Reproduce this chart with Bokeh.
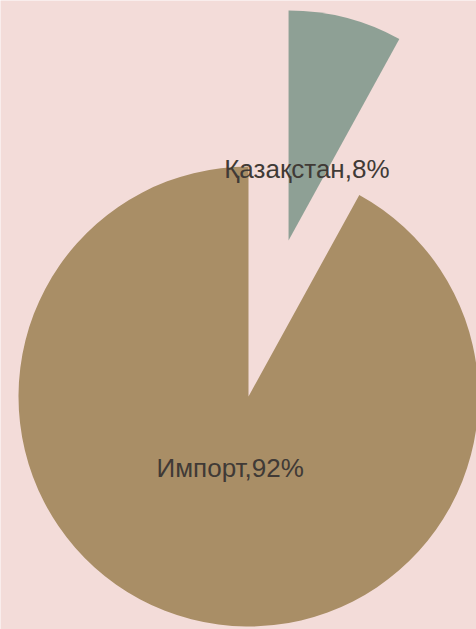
import math
from bokeh.plotting import figure
from bokeh.models import Range1d, ColumnDataSource
from bokeh.core.properties import value
from bokeh.embed import file_html
from bokeh.resources import INLINE

# data
categories = ["Қазақстан", "Импорт"]
shares = [8, 92]
colors = ["#8ea095", "#a98e66"]
explode = [161, 0]

W, H = 476, 629
cx, cy, R = 248, 233, 230

p = figure(width=W, height=H, x_range=Range1d(0, W), y_range=Range1d(0, H),
           output_backend="svg", toolbar_location=None, min_border=0)
p.axis.visible = False
p.grid.visible = False
p.outline_line_color = None
p.background_fill_color = "#f3dcd9"
p.border_fill_color = "#f3dcd9"

total = sum(shares)
xs, ys, sa, ea, lx, ly, labels = [], [], [], [], [], [], []
cum = 0
for cat, v, ex in zip(categories, shares, explode):
    a_start = math.radians(90 - cum / total * 360)
    cum += v
    a_end = math.radians(90 - cum / total * 360)
    mid = (a_start + a_end) / 2
    x0 = cx + ex * math.cos(mid)
    y0 = cy + ex * math.sin(mid)
    xs.append(x0); ys.append(y0)
    sa.append(a_end); ea.append(a_start)
    lx.append(x0 + 0.32 * R * math.cos(mid))
    ly.append(y0 + 0.32 * R * math.sin(mid))
    labels.append(f"{cat},{v}%")

src = ColumnDataSource(dict(x=xs, y=ys, start=sa, end=ea, color=colors))
p.wedge(x="x", y="y", radius=R, start_angle="start", end_angle="end",
        fill_color="color", line_color=None, source=src)

lsrc = ColumnDataSource(dict(x=lx, y=ly, text=labels))
p.text(x="x", y="y", text="text", source=lsrc, text_align="center",
       text_baseline="middle", text_font=value("Liberation Sans"),
       text_font_size="26px", text_color="#403a36")

open("out.html", "w").write(file_html(p, INLINE))
